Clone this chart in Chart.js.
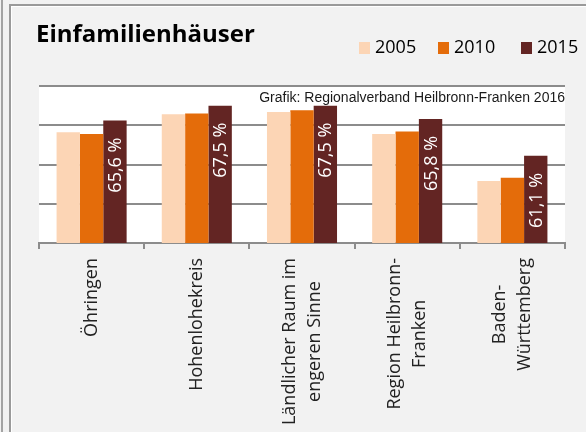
<!DOCTYPE html>
<html lang="de">
<head>
<meta charset="utf-8">
<title>Einfamilienhäuser</title>
<script src="https://cdn.jsdelivr.net/npm/chart.js@4/dist/chart.umd.min.js"></script>
<style>
  html, body { margin: 0; padding: 0; background: #f2f2f2; }
  #buehne { position: relative; width: 586px; height: 432px; overflow: hidden; }
  .rand-aussen { position: absolute; left: 1px; top: 0; width: 2px; height: 432px; background: #a3a3a3; }
  .rand-innen { position: absolute; left: 9px; top: 4px; right: 0; bottom: 0;
    border-left: 2px solid #9a9a9a; border-top: 2px solid #9a9a9a; box-shadow: inset 1px 1px 0 #fff; }
  #titel { position: absolute; left: 36px; top: 21px; margin: 0;
    font: 700 24px/24px "Open Sans", sans-serif; color: #000; }
  .leg { position: absolute; top: 37px; font: 18px/18px "Open Sans", sans-serif; color: #000; white-space: nowrap; }
  .leg i { display: inline-block; width: 11px; height: 12px; margin-right: 5px; vertical-align: -1px; }
  #diagramm { position: absolute; left: 0; top: 0; }
</style>
</head>
<body>
<div id="buehne">
  <div class="rand-aussen"></div>
  <div class="rand-innen"></div>
  <canvas id="diagramm" width="586" height="432"></canvas>
  <h1 id="titel">Einfamilienhäuser</h1>
  <div id="legende"></div>
</div>
<script>
/* Einfamilienhäuser – Anteil je Raum, 2005 / 2010 / 2015 (in %) */
(function () {
  'use strict';

  var KATEGORIEN = [
    ['Öhringen'],
    ['Hohenlohekreis'],
    ['Ländlicher Raum im', 'engeren Sinne'],
    ['Region Heilbronn-', 'Franken'],
    ['Baden-', 'Württemberg']
  ];
  var JAHRE = ['2005', '2010', '2015'];
  var WERTE_2005 = [64.1, 66.4, 66.7, 63.9, 57.9];
  var WERTE_2010 = [63.9, 66.5, 66.9, 64.2, 58.3];
  var WERTE_2015 = [65.6, 67.5, 67.5, 65.8, 61.1];
  var FARBEN = ['#fcd5b5', '#e46c0a', '#632523'];
  var Y_MIN = 50, Y_MAX = 70, Y_SCHRITT = 5;
  var QUELLE = 'Grafik: Regionalverband Heilbronn-Franken 2016';

  var GRAU = '#8c8c8c';
  var SCHRIFT = '"Open Sans", sans-serif';

  function fmtProzent(v) { return v.toFixed(1).replace('.', ',') + ' %'; }

  // Legende als HTML
  var LEG_X = [359, 438, 521];
  var leg = document.getElementById('legende');
  JAHRE.forEach(function (j, i) {
    var d = document.createElement('div');
    d.className = 'leg';
    d.style.left = LEG_X[i] + 'px';
    d.innerHTML = '<i style="background:' + FARBEN[i] + '"></i>' + j;
    leg.appendChild(d);
  });

  // weiße Zeichenfläche + Quellenangabe
  var hintergrund = {
    id: 'hintergrund',
    beforeDraw: function (chart) {
      var a = chart.chartArea, ctx = chart.ctx;
      ctx.save();
      ctx.fillStyle = '#fff';
      ctx.fillRect(a.left, a.top, a.right - a.left, a.bottom - a.top);
      ctx.restore();
    },
    afterDraw: function (chart) {
      var a = chart.chartArea, ctx = chart.ctx;
      ctx.save();
      ctx.font = '14px "Liberation Sans", Arial, sans-serif';
      ctx.fillStyle = '#1a1a1a';
      ctx.textAlign = 'right';
      ctx.textBaseline = 'alphabetic';
      ctx.fillText(QUELLE, a.right, a.top + 16);
      ctx.restore();
    }
  };

  // Werte 2015 senkrecht in die Balken
  var wertLabels = {
    id: 'wertLabels',
    afterDatasetsDraw: function (chart) {
      var ctx = chart.ctx;
      var meta = chart.getDatasetMeta(2);
      ctx.save();
      ctx.font = '18px ' + SCHRIFT;
      ctx.fillStyle = '#fff';
      ctx.textAlign = 'right';
      ctx.textBaseline = 'middle';
      meta.data.forEach(function (bar, i) {
        ctx.save();
        ctx.translate(bar.x + 1, bar.y + 17);
        ctx.rotate(-Math.PI / 2);
        ctx.fillText(fmtProzent(WERTE_2015[i]), 0, 0);
        ctx.restore();
      });
      ctx.restore();
    }
  };

  // Kategorienbeschriftung: gedreht, Zeilen zueinander zentriert
  var achsenText = {
    id: 'achsenText',
    afterDraw: function (chart) {
      var ctx = chart.ctx, x = chart.scales.x;
      var oben = chart.chartArea.bottom + 15, zeile = 25;
      ctx.save();
      ctx.font = '18px ' + SCHRIFT;
      ctx.fillStyle = '#222';
      ctx.textAlign = 'center';
      ctx.textBaseline = 'middle';
      KATEGORIEN.forEach(function (zeilen, i) {
        var mitte = x.getPixelForValue(i);
        var breit = Math.max.apply(null, zeilen.map(function (z) { return ctx.measureText(z).width; }));
        zeilen.forEach(function (z, k) {
          ctx.save();
          ctx.translate(mitte + (k - (zeilen.length - 1) / 2) * zeile, oben + breit / 2);
          ctx.rotate(-Math.PI / 2);
          ctx.fillText(z, 0, 0);
          ctx.restore();
        });
      });
      ctx.restore();
    }
  };

  new Chart(document.getElementById('diagramm').getContext('2d'), {
    type: 'bar',
    data: {
      labels: KATEGORIEN.map(function (k) { return k.join(' '); }),
      datasets: [
        { label: JAHRE[0], data: WERTE_2005, backgroundColor: FARBEN[0] },
        { label: JAHRE[1], data: WERTE_2010, backgroundColor: FARBEN[1] },
        { label: JAHRE[2], data: WERTE_2015, backgroundColor: FARBEN[2] }
      ]
    },
    options: {
      responsive: false,
      animation: false,
      events: [],
      layout: { padding: { left: 39, right: 21, top: 86, bottom: 183 } },
      datasets: { bar: { categoryPercentage: 0.666, barPercentage: 1.0 } },
      plugins: { legend: { display: false }, tooltip: { enabled: false } },
      scales: {
        x: {
          ticks: { display: false },
          grid: { display: true, drawOnChartArea: false, drawTicks: true, tickLength: 6, color: GRAU, lineWidth: 2, offset: true },
          border: { display: true, color: GRAU, width: 2 }
        },
        y: {
          min: Y_MIN, max: Y_MAX,
          ticks: { display: false, stepSize: Y_SCHRITT },
          grid: { color: GRAU, lineWidth: 2, drawTicks: false },
          border: { display: false }
        }
      }
    },
    plugins: [hintergrund, wertLabels, achsenText]
  });
})();
</script>
</body>
</html>
